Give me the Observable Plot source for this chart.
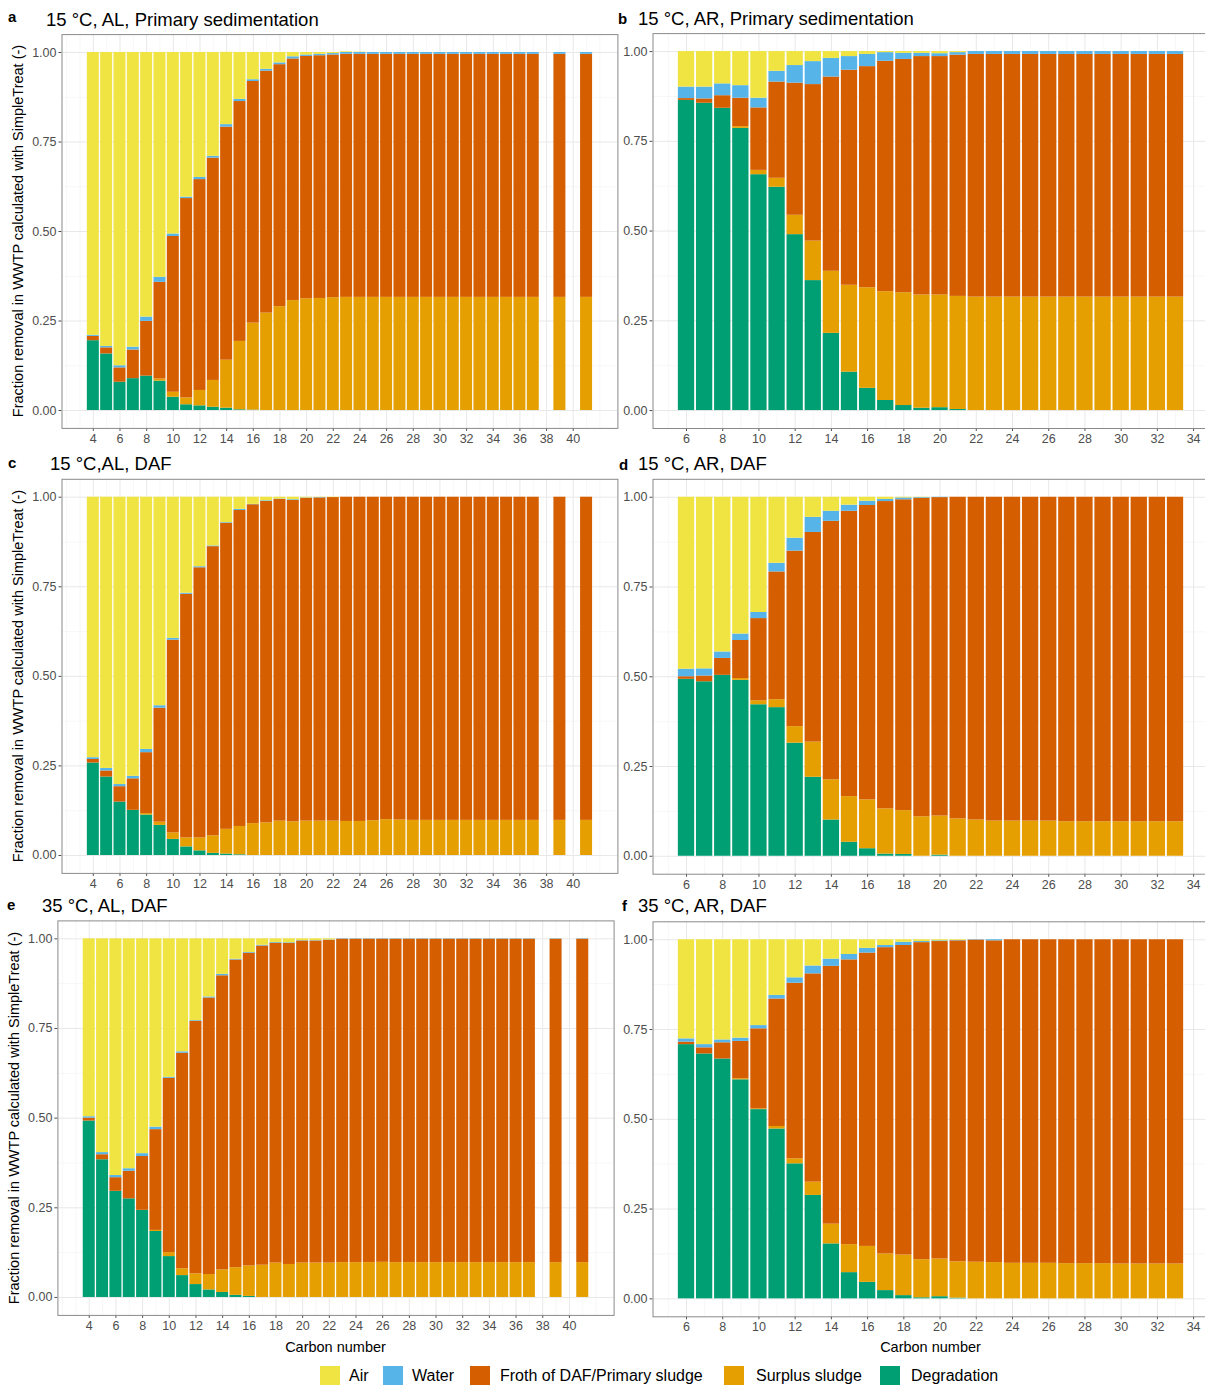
<!DOCTYPE html>
<html><head><meta charset="utf-8">
<script src="https://cdn.jsdelivr.net/npm/d3@7"></script>
<script src="https://cdn.jsdelivr.net/npm/@observablehq/plot@0.6"></script>
<style>
body{margin:0;background:#fff;font-family:Arial,"Liberation Sans",sans-serif;}
#fig{position:relative;width:1205px;height:1385px;overflow:hidden;background:#fff;}
.abs{position:absolute;white-space:nowrap;color:#000;}
.tag{font-weight:bold;font-size:15px;line-height:16px;}
.ttl{font-size:18.5px;line-height:20px;}
.ylab{font-size:14.5px;line-height:16px;transform:translate(-50%,-50%) rotate(-90deg);}
.xlab{font-size:14.5px;line-height:16px;transform:translate(-50%,-50%);}
.sw{position:absolute;width:20px;height:20px;}
.lt{position:absolute;font-size:16px;line-height:20px;white-space:nowrap;}
</style></head><body><div id="fig"></div>
<script>
// ---------- categories ----------
const components = ["Air","Water","Froth of DAF/Primary sludge","Surplus sludge","Degradation"];
const compColors = ["#F0E442","#56B4E9","#D55E00","#E69F00","#009E73"];
const stackOrder = ["Degradation","Surplus sludge","Froth of DAF/Primary sludge","Water","Air"];

const carbonAL = [4,5,6,7,8,9,10,11,12,13,14,15,16,17,18,19,20,21,22,23,24,25,26,27,28,29,30,31,32,33,34,35,36,37,39,41];
const carbonAR = [6,7,8,9,10,11,12,13,14,15,16,17,18,19,20,21,22,23,24,25,26,27,28,29,30,31,32,33];

const ticksAL = [4,6,8,10,12,14,16,18,20,22,24,26,28,30,32,34,36,38,40];
const ticksAR = [6,8,10,12,14,16,18,20,22,24,26,28,30,32,34];
const minorAL = [2,3,5,7,9,11,13,15,17,19,21,23,25,27,29,31,33,35,37,39,41,42];
const minorAR = [5,7,9,11,13,15,17,19,21,23,25,27,29,31,33];
const yTicks = [0,0.25,0.5,0.75,1];
const yMinor = [0.125,0.375,0.625,0.875];

// ---------- panel a: 15 °C, AL, Primary sedimentation ----------
const aDeg   = [0.195,0.158,0.079,0.089,0.096,0.082,0.037,0.016,0.013,0.009,0.0065,0.002,0.001,0,0,0,0,0,0,0,0,0,0,0,0,0,0,0,0,0,0,0,0,0,0,0];
const aSur   = [0,0,0,0,0,0.006,0.014,0.019,0.043,0.075,0.134,0.191,0.243,0.272,0.290,0.307,0.312,0.313,0.315,0.316,0.316,0.316,0.316,0.316,0.316,0.316,0.316,0.316,0.316,0.316,0.316,0.316,0.316,0.316,0.316,0.316];
const aFroth = [0.012,0.017,0.040,0.080,0.153,0.270,0.435,0.557,0.589,0.621,0.651,0.670,0.675,0.676,0.676,0.675,0.677,0.678,0.678,0.679,0.679,0.679,0.679,0.679,0.679,0.679,0.679,0.679,0.679,0.679,0.679,0.679,0.679,0.679,0.679,0.679];
const aWater = [0.003,0.004,0.006,0.008,0.012,0.014,0.007,0.004,0.006,0.005,0.007,0.006,0.005,0.005,0.005,0.006,0.004,0.004,0.004,0.005,0.005,0.005,0.005,0.005,0.005,0.005,0.005,0.005,0.005,0.005,0.005,0.005,0.005,0.005,0.005,0.005];
const aAir   = [0.790,0.821,0.875,0.823,0.739,0.628,0.507,0.404,0.349,0.290,0.202,0.131,0.076,0.047,0.029,0.012,0.007,0.005,0.003,0.002,0.001,0,0,0,0,0,0,0,0,0,0,0,0,0,0,0];

// ---------- panel b: 15 °C, AR, Primary sedimentation ----------
const bDeg   = [0.864,0.856,0.842,0.786,0.657,0.622,0.490,0.362,0.215,0.107,0.062,0.028,0.014,0.0065,0.008,0.003,0,0,0,0,0,0,0,0,0,0,0,0];
const bSur   = [0,0,0,0.005,0.012,0.025,0.054,0.110,0.173,0.242,0.280,0.303,0.314,0.3155,0.314,0.315,0.316,0.316,0.316,0.316,0.316,0.316,0.316,0.316,0.316,0.316,0.316,0.316];
const bFroth = [0.005,0.012,0.035,0.079,0.174,0.268,0.368,0.436,0.541,0.599,0.616,0.642,0.650,0.664,0.664,0.672,0.676,0.676,0.676,0.676,0.676,0.676,0.676,0.676,0.676,0.676,0.676,0.676];
const bWater = [0.032,0.033,0.033,0.035,0.027,0.030,0.049,0.064,0.052,0.038,0.034,0.024,0.017,0.009,0.008,0.007,0.008,0.008,0.008,0.008,0.008,0.008,0.008,0.008,0.008,0.008,0.008,0.008];
const bAir   = [0.099,0.099,0.090,0.095,0.130,0.055,0.039,0.028,0.019,0.014,0.008,0.003,0.005,0.005,0.006,0.003,0,0,0,0,0,0,0,0,0,0,0,0];

// ---------- panel c: 15 °C, AL, DAF ----------
const cDeg   = [0.258,0.219,0.149,0.126,0.113,0.084,0.045,0.024,0.013,0.006,0.004,0.002,0,0,0,0,0,0,0,0,0,0,0,0,0,0,0,0,0,0,0,0,0,0,0,0];
const cSur   = [0,0,0,0,0.004,0.009,0.018,0.025,0.036,0.049,0.069,0.079,0.089,0.091,0.096,0.094,0.096,0.096,0.096,0.095,0.095,0.097,0.100,0.099,0.098,0.098,0.098,0.098,0.098,0.098,0.098,0.098,0.098,0.098,0.098,0.098];
const cFroth = [0.010,0.017,0.043,0.088,0.170,0.318,0.538,0.680,0.754,0.807,0.854,0.882,0.890,0.897,0.898,0.897,0.901,0.902,0.903,0.905,0.905,0.903,0.900,0.901,0.902,0.902,0.902,0.902,0.902,0.902,0.902,0.902,0.902,0.902,0.902,0.902];
const cWater = [0.005,0.007,0.006,0.007,0.009,0.007,0.005,0.003,0.003,0.002,0.002,0.003,0.001,0.002,0.001,0.002,0.001,0.001,0,0,0,0,0,0,0,0,0,0,0,0,0,0,0,0,0,0];
const cAir   = [0.727,0.757,0.802,0.779,0.704,0.582,0.394,0.268,0.194,0.136,0.071,0.034,0.020,0.010,0.005,0.007,0.002,0.001,0.001,0,0,0,0,0,0,0,0,0,0,0,0,0,0,0,0,0];

// ---------- panel d: 15 °C, AR, DAF ----------
const dDeg   = [0.493,0.486,0.504,0.490,0.422,0.414,0.315,0.220,0.101,0.039,0.021,0.006,0.005,0,0.003,0,0,0,0,0,0,0,0,0,0,0,0,0];
const dSur   = [0,0,0,0.005,0.011,0.022,0.046,0.098,0.112,0.127,0.136,0.126,0.122,0.110,0.109,0.104,0.101,0.098,0.098,0.098,0.098,0.096,0.096,0.096,0.096,0.096,0.096,0.096];
const dFroth = [0.007,0.016,0.047,0.106,0.229,0.356,0.489,0.584,0.720,0.795,0.820,0.856,0.866,0.887,0.887,0.896,0.899,0.902,0.902,0.902,0.902,0.904,0.904,0.904,0.904,0.904,0.904,0.904];
const dWater = [0.021,0.020,0.018,0.018,0.017,0.024,0.036,0.042,0.028,0.017,0.012,0.006,0.005,0.002,0.001,0,0,0,0,0,0,0,0,0,0,0,0,0];
const dAir   = [0.479,0.478,0.431,0.381,0.321,0.184,0.114,0.056,0.039,0.022,0.011,0.006,0.002,0.001,0,0,0,0,0,0,0,0,0,0,0,0,0,0];

// ---------- panel e: 35 °C, AL, DAF ----------
const eDeg   = [0.492,0.384,0.296,0.275,0.243,0.184,0.114,0.061,0.036,0.021,0.014,0.006,0.003,0,0,0,0,0,0,0,0,0,0,0,0,0,0,0,0,0,0,0,0,0,0,0];
const eSur   = [0,0,0,0,0,0.003,0.011,0.019,0.030,0.043,0.063,0.077,0.085,0.090,0.096,0.092,0.096,0.096,0.096,0.097,0.097,0.097,0.098,0.097,0.097,0.097,0.097,0.097,0.097,0.097,0.097,0.097,0.097,0.097,0.097,0.097];
const eFroth = [0.008,0.014,0.038,0.077,0.150,0.281,0.486,0.601,0.704,0.771,0.820,0.858,0.872,0.890,0.892,0.895,0.898,0.898,0.900,0.902,0.902,0.902,0.901,0.902,0.902,0.902,0.902,0.902,0.902,0.902,0.902,0.902,0.902,0.902,0.902,0.902];
const eWater = [0.004,0.006,0.006,0.007,0.008,0.007,0.003,0.004,0.002,0.003,0.004,0.002,0.002,0.002,0.002,0.002,0.001,0.001,0.001,0.001,0.001,0.001,0.001,0.001,0.001,0.001,0.001,0.001,0.001,0.001,0.001,0.001,0.001,0.001,0.001,0.001];
const eAir   = [0.496,0.596,0.660,0.641,0.599,0.525,0.386,0.315,0.228,0.162,0.099,0.057,0.038,0.018,0.010,0.011,0.005,0.005,0.003,0,0,0,0,0,0,0,0,0,0,0,0,0,0,0,0,0];

// ---------- panel f: 35 °C, AR, DAF ----------
const fDeg   = [0.708,0.682,0.668,0.610,0.527,0.473,0.376,0.288,0.153,0.073,0.046,0.023,0.009,0.003,0.006,0.002,0,0,0,0,0,0,0,0,0,0,0,0];
const fSur   = [0,0,0,0.003,0.002,0.007,0.014,0.037,0.055,0.078,0.100,0.102,0.113,0.106,0.105,0.101,0.102,0.101,0.099,0.099,0.099,0.098,0.098,0.098,0.097,0.097,0.097,0.097];
const fFroth = [0.007,0.017,0.045,0.104,0.223,0.355,0.489,0.580,0.718,0.793,0.817,0.853,0.862,0.883,0.884,0.894,0.897,0.896,0.901,0.901,0.901,0.902,0.902,0.902,0.903,0.903,0.903,0.903];
const fWater = [0.009,0.009,0.008,0.009,0.009,0.010,0.015,0.022,0.020,0.015,0.013,0.006,0.009,0.003,0.002,0.001,0.001,0.003,0,0,0,0,0,0,0,0,0,0];
const fAir   = [0.276,0.292,0.279,0.274,0.239,0.155,0.106,0.073,0.054,0.041,0.024,0.016,0.007,0.005,0.003,0.002,0,0,0,0,0,0,0,0,0,0,0,0];

// ---------- texts ----------
const panelTags = ["a","b","c","d","e","f"];
const panelTitles = ["15 °C, AL, Primary sedimentation","15 °C, AR, Primary sedimentation","15 °C,AL, DAF","15 °C, AR, DAF","35 °C, AL, DAF","35 °C, AR, DAF"];
const yTitle = "Fraction removal in WWTP calculated with SimpleTreat (-)";
const xTitle = "Carbon number";

const FONT = 'Arial, "Liberation Sans", sans-serif';
const fig = document.getElementById("fig");

function addText(cls, txt, left, top) {
  const d = document.createElement("div");
  d.className = "abs " + cls;
  d.textContent = txt;
  d.style.left = left + "px";
  d.style.top = top + "px";
  fig.appendChild(d);
  return d;
}

function drawPanel(p) {
  const rows = [];
  const series = [["Degradation", p.deg], ["Surplus sludge", p.sur], ["Froth of DAF/Primary sludge", p.froth], ["Water", p.water], ["Air", p.air]];
  p.carbon.forEach((c, i) => {
    for (const [name, arr] of series) rows.push({c, comp: name, value: arr[i]});
  });
  const ml = p.fx1 - p.sx, mr = p.sx + p.w - p.fx2, mt = p.fy1 - p.sy, mb = p.sy + p.h - p.fy2;
  const svg = Plot.plot({
    width: p.w, height: p.h,
    marginLeft: ml, marginRight: mr, marginTop: mt, marginBottom: mb,
    style: {background: "transparent", color: "#4d4d4d", fontSize: "12.5px", fontFamily: FONT, overflow: "visible"},
    x: {domain: p.xdomain, ticks: p.xticks, tickSize: 3, tickPadding: 2.5, tickFormat: d => String(d), label: null},
    y: {domain: [-0.05, 1.05], ticks: yTicks, tickSize: 3, tickPadding: 2.5, tickFormat: d3.format(".2f"), label: null},
    color: {domain: components, range: compColors},
    marks: [
      Plot.ruleX(p.minor, {stroke: "#f2f2f2", strokeWidth: 0.6}),
      Plot.ruleY(yMinor, {stroke: "#f2f2f2", strokeWidth: 0.6}),
      Plot.ruleX(p.xticks, {stroke: "#e8e8e8", strokeWidth: 1}),
      Plot.ruleY(yTicks, {stroke: "#e8e8e8", strokeWidth: 1}),
      Plot.rectY(rows, Plot.stackY({x: "c", x1: d => d.c - 0.45, x2: d => d.c + 0.45, y: "value", fill: "comp", order: stackOrder})),
      Plot.frame({stroke: "#8a8a8a", strokeWidth: 1})
    ]
  });
  svg.style.position = "absolute";
  svg.style.left = p.sx + "px";
  svg.style.top = p.sy + "px";
  fig.appendChild(svg);
}

const L = {xdomain: [1.65, 43.35], xticks: ticksAL, minor: minorAL, carbon: carbonAL};
const R = {xdomain: [4.15, 34.85], xticks: ticksAR, minor: minorAR, carbon: carbonAR};

drawPanel({...L, deg: aDeg, sur: aSur, froth: aFroth, water: aWater, air: aAir,
  sx: 20, sy: 30, w: 600, h: 425, fx1: 61.5, fx2: 617.4, fy1: 34.1, fy2: 427.9});
drawPanel({...R, deg: bDeg, sur: bSur, froth: bFroth, water: bWater, air: bAir,
  sx: 618, sy: 30, w: 592, h: 425, fx1: 652.5, fx2: 1208.5, fy1: 33.1, fy2: 428});
drawPanel({...L, deg: cDeg, sur: cSur, froth: cFroth, water: cWater, air: cAir,
  sx: 20, sy: 475, w: 600, h: 425, fx1: 61.5, fx2: 617.4, fy1: 478.8, fy2: 872.9});
drawPanel({...R, deg: dDeg, sur: dSur, froth: dFroth, water: dWater, air: dAir,
  sx: 618, sy: 475, w: 592, h: 425, fx1: 652.5, fx2: 1208.5, fy1: 478.8, fy2: 873.7});
drawPanel({...L, deg: eDeg, sur: eSur, froth: eFroth, water: eWater, air: eAir,
  sx: 16, sy: 917, w: 600, h: 425, fx1: 57.4, fx2: 613.6, fy1: 920.4, fy2: 1314.9});
drawPanel({...R, deg: fDeg, sur: fSur, froth: fFroth, water: fWater, air: fAir,
  sx: 618, sy: 917, w: 592, h: 425, fx1: 652.5, fx2: 1208.5, fy1: 921.3, fy2: 1316.3});

// panel tags and titles
const tagPos = [[8,9],[618,11],[8,455],[619,457],[7,897],[622,898]];
const titlePos = [[46,10],[638,9],[50,454],[638,454],[42,896],[638,896]];
panelTags.forEach((t, i) => addText("tag", t, tagPos[i][0], tagPos[i][1]));
panelTitles.forEach((t, i) => addText("ttl", t, titlePos[i][0], titlePos[i][1]));

// axis titles
[[18, 231],[18, 676],[14, 1118]].forEach(([x, y]) => addText("ylab", yTitle, x, y));
[[335.5, 1347],[930.5, 1347]].forEach(([x, y]) => addText("xlab", xTitle, x, y));

// legend
const legendSw = [320, 383, 470, 724, 880];
const legendTx = [349, 412, 500, 756, 911];
components.forEach((name, i) => {
  const s = document.createElement("div");
  s.className = "sw";
  s.style.left = legendSw[i] + "px";
  s.style.top = "1366px";
  s.style.background = compColors[i];
  fig.appendChild(s);
  const t = document.createElement("div");
  t.className = "lt";
  t.textContent = name;
  t.style.left = legendTx[i] + "px";
  t.style.top = "1366px";
  fig.appendChild(t);
});
</script></body></html>
